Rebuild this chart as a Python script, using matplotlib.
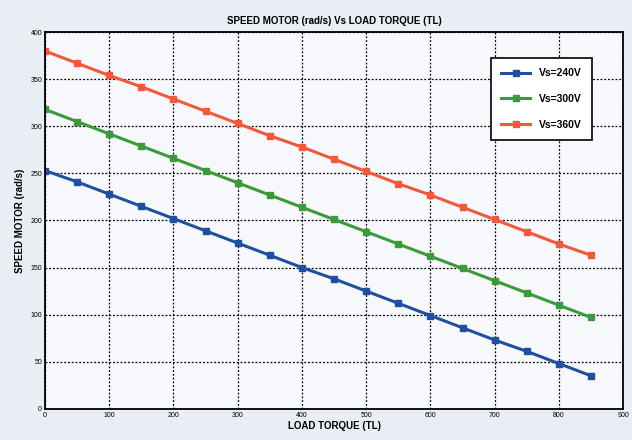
import numpy as np
import matplotlib.pyplot as plt

plt.rcParams['font.family'] = ['Liberation Sans', 'DejaVu Sans']

torque = np.arange(0, 900, 50)
speed_240 = [253, 241, 228, 215, 202, 189, 176, 163, 150, 138, 125, 112, 99, 86, 73, 61, 48, 35]
speed_300 = [318, 305, 292, 279, 266, 253, 240, 227, 214, 201, 188, 175, 162, 149, 136, 123, 110, 97]
speed_360 = [380, 367, 354, 342, 329, 316, 303, 290, 278, 265, 252, 239, 227, 214, 201, 188, 175, 163]
labels = ['Vs=240V', 'Vs=300V', 'Vs=360V']
colors = ['#1f4f9e', '#3c9a3c', '#f2583e']

fig = plt.figure(figsize=(6.32, 4.40), dpi=100, facecolor='#e9edf4')
ax = fig.add_axes([0.071, 0.071, 0.915, 0.856])
ax.set_facecolor('#f7f8fb')

for s, lab, c in zip([speed_240, speed_300, speed_360], labels, colors):
    ax.plot(torque, s, color=c, lw=2.2, marker='s', ms=4.5, label=lab)

ax.set_xlim(0, 900)
ax.set_ylim(0, 400)
ax.set_xticks(np.arange(0, 901, 100))
ax.set_yticks(np.arange(0, 401, 50))
ax.tick_params(labelsize=5, length=0, pad=2)
ax.grid(True, color='black', linestyle=(0, (1.5, 1.5)), lw=0.9)
for sp in ax.spines.values():
    sp.set_linewidth(1.3)

ax.set_title('SPEED MOTOR (rad/s) Vs LOAD TORQUE (TL)', fontsize=7, fontweight='bold', pad=6)
ax.set_xlabel('LOAD TORQUE (TL)', fontsize=7, fontweight='bold', labelpad=2)
ax.set_ylabel('SPEED MOTOR (rad/s)', fontsize=7, fontweight='bold', labelpad=4)

leg = ax.legend(loc='upper right', bbox_to_anchor=(0.955, 0.945),
                prop={'weight': 'bold', 'size': 7.5}, frameon=True, fancybox=False,
                edgecolor='black', borderpad=1.0, labelspacing=1.5, handlelength=2.8,
                framealpha=1)
leg.get_frame().set_linewidth(1.2)

fig.savefig('out.png', dpi=100, facecolor=fig.get_facecolor())
